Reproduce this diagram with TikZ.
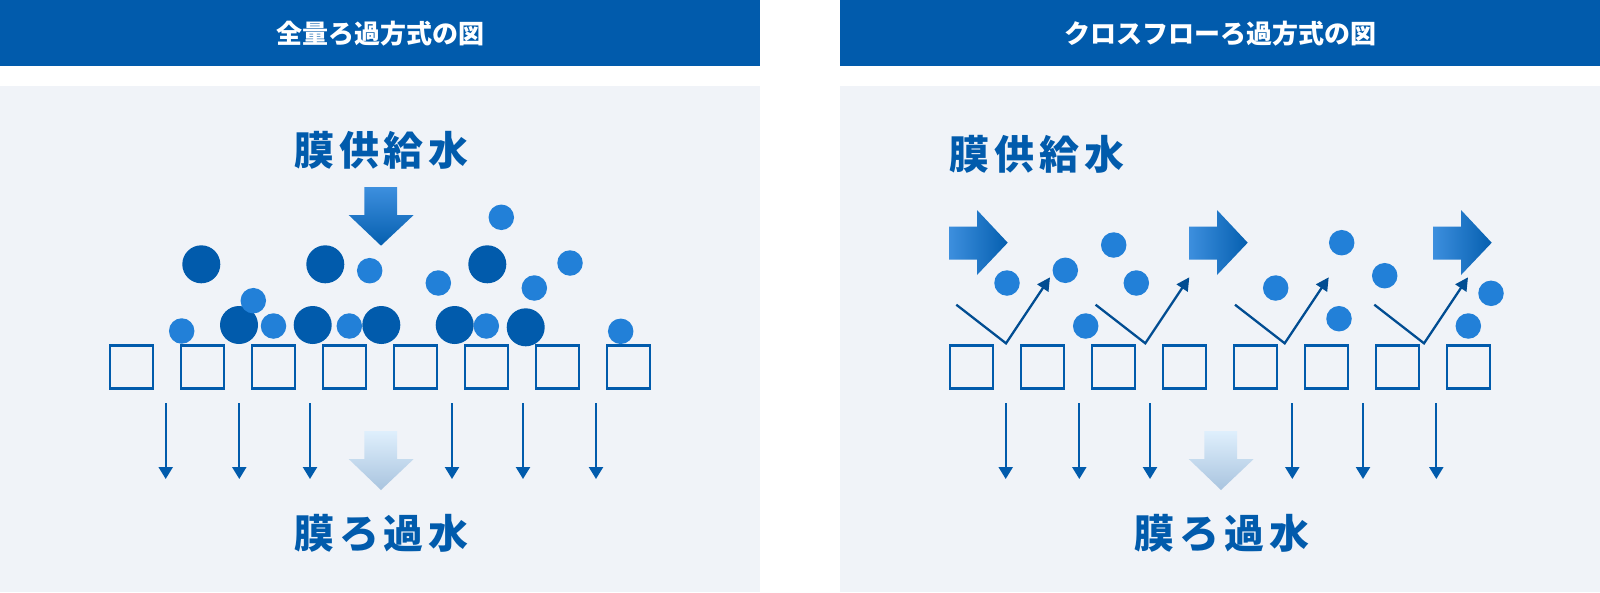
\documentclass[tikz,border=0pt]{standalone}
\usepackage{fontspec}
\setmainfont{Noto Sans CJK JP}
\newfontfamily\spaced[LetterSpace=12]{Noto Sans CJK JP}
\usepackage{xcolor}
\usepackage{tikz}
\usetikzlibrary{arrows.meta}
\definecolor{navy}{HTML}{015BAC}
\definecolor{panel}{HTML}{F0F3F8}
\definecolor{drop}{HTML}{2280D8}
\tikzset{
  headtitle/.style={text=white, inner sep=0pt, font=\bfseries\fontsize{26}{26}\selectfont},
  wlabel/.style={text=navy, inner sep=0pt, font=\spaced\bfseries\fontsize{40}{40}\selectfont},
  pore/.style={draw=navy, line width=2.7pt, minimum size=43pt, inner sep=0pt},
  big/.style={circle, fill=navy, minimum size=38pt, inner sep=0pt},
  small/.style={circle, fill=drop, minimum size=25.5pt, inner sep=0pt},
  seep/.style={draw=navy, line width=2.3pt, -{Triangle[length=12pt,width=14pt]}},
  sweep/.style={draw=navy!85!black, line width=2.3pt, line join=miter, -{Triangle[length=13pt,width=13pt]}},
  feed/.style={top color=feedA, bottom color=feedB},
  feedr/.style={left color=feedA, right color=feedB},
  perm/.style={top color=permA, bottom color=permB}
}
\definecolor{feedA}{HTML}{3D8FDE}
\definecolor{feedB}{HTML}{055FAF}
\definecolor{permA}{HTML}{DFEFFC}
\definecolor{permB}{HTML}{A9C4DF}
\begin{document}
\begin{tikzpicture}[x=1pt, y=-1pt]
  \useasboundingbox (0,0) rectangle (1600,592);

  % Left panel
  \fill[navy] (0,0) rectangle (760,66);
  \node[headtitle] (titleL) at (380,34) {全量ろ過方式の図};
  \fill[panel] (0,86) rectangle (760,592);
  \node[wlabel] (feedL) at (381.5,150) {膜供給水};
  \node[wlabel] (permL) at (381.5,533) {膜ろ過水};
  \shade[feed] (364.3,187) -- (397,187) -- (397,215) -- (413.7,215) -- (381,245.7) -- (348.7,215) -- (364.3,215) -- cycle;
  \shade[perm] (364.3,431) -- (397,431) -- (397,459) -- (413.7,459) -- (381,490) -- (348.7,459) -- (364.3,459) -- cycle;

  % Right panel
  \fill[navy] (840,0) rectangle (1600,66);
  \node[headtitle] (titleR) at (1220,34) {クロスフローろ過方式の図};
  \fill[panel] (840,86) rectangle (1600,592);
  \node[wlabel] (feedR) at (1037,154.5) {膜供給水};
  \node[wlabel] (permR) at (1222,533) {膜ろ過水};
  \shade[perm] (1204.3,431) -- (1237,431) -- (1237,459) -- (1253.7,459) -- (1221,490) -- (1188.7,459) -- (1204.3,459) -- cycle;
  \foreach \s in {949,1189,1433}
    \shade[feedr, xshift=\s pt] (0,226.7) -- (28,226.7) -- (28,210) -- (58.7,242.7) -- (28,275) -- (28,259.7) -- (0,259.7) -- cycle;

  % Membrane
  \foreach \x [count=\i] in {131.5,202.5,273.5,344.5,415.5,486.5,557.5,628.5}
    \node[pore] (poreL\i) at (\x,366.7) {};
  \foreach \x [count=\i] in {971.5,1042.5,1113.5,1184.5,1255.5,1326.5,1397.5,1468.5}
    \node[pore] (poreR\i) at (\x,366.7) {};

  % Particles
  \foreach \x/\y [count=\i] in {201.3/264.3,325.3/264.3,487.3/264.3,239/325,312.7/325,381.3/325,454.7/325,525.7/327.3}
    \node[big] (bigL\i) at (\x,\y) {};
  \foreach \x/\y [count=\i] in {369.7/270.7,253.3/300.7,501.3/217.3,570/263,534.3/288,438.3/283,181.7/331,273.5/326,349.3/326,486.3/326,620.7/331.3}
    \node[small] (smallL\i) at (\x,\y) {};
  \foreach \x/\y [count=\i] in {1007/283,1065.3/270.3,1113.7/245,1136.3/283,1085.7/326,1275.7/288,1341.7/242.7,1339/318.7,1384.7/275.7,1491/293.3,1468.3/326}
    \node[small] (smallR\i) at (\x,\y) {};

  % Permeate arrows
  \foreach \x [count=\i] in {165.7,239.3,310,452,523,596,1005.7,1079.3,1150,1292.3,1363,1436.3} {
    \coordinate (seepA\i) at (\x,403);
    \coordinate (seepB\i) at (\x,479);
    \draw[seep] (seepA\i) -- (seepB\i);
  }

  % Cross flow arrows
  \foreach \s [count=\i] in {0,139.3,278.7,418} {
    \coordinate (sweepA\i) at (956.3+\s,304.7);
    \coordinate (sweepB\i) at (1006+\s,343.3);
    \coordinate (sweepC\i) at (1050+\s,277.3);
    \draw[sweep] (sweepA\i) -- (sweepB\i) -- (sweepC\i);
  }
\end{tikzpicture}
\end{document}
